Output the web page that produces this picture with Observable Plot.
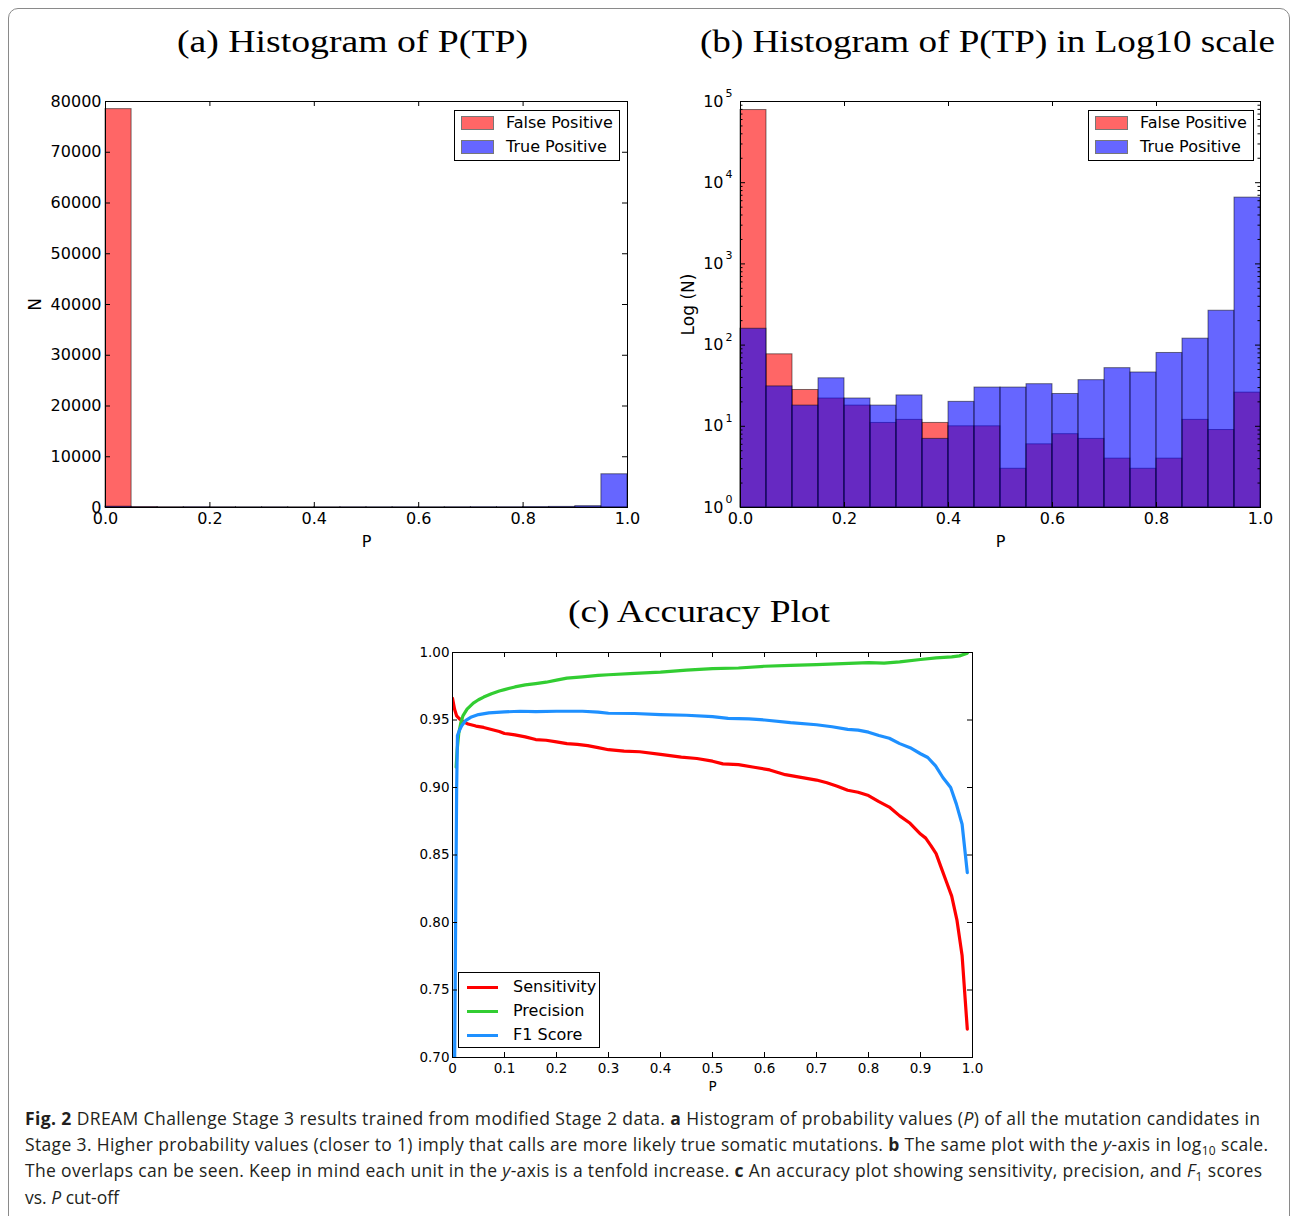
<!DOCTYPE html>
<html><head><meta charset="utf-8">
<script src="https://cdn.jsdelivr.net/npm/d3@7"></script>
<script src="https://cdn.jsdelivr.net/npm/@observablehq/plot@0.6"></script>
<style>
html,body{margin:0;padding:0;background:#fff;}
body{width:1292px;height:1216px;position:relative;overflow:hidden;}
.box{position:absolute;left:8px;top:8px;width:1282px;height:1300px;border:1px solid #8a8a8a;border-radius:10px;box-sizing:border-box;}
.panel{position:absolute;}
.panel svg{overflow:visible;}
.legend{position:absolute;border:1px solid #000;background:#fff;box-sizing:border-box;font-family:"DejaVu Sans",sans-serif;color:#000;}
.legend .row{position:absolute;white-space:nowrap;}
.patch{position:absolute;box-sizing:border-box;border:1px solid #777;}
.lsample{position:absolute;height:3px;}
#overlay{position:absolute;left:0;top:0;}
</style></head><body>
<div class="box"></div>
<svg id="overlay" width="1292" height="1216"></svg>
<div id="pa" class="panel" style="left:20px;top:90px"></div>
<div id="pb" class="panel" style="left:655px;top:90px"></div>
<div id="pc" class="panel" style="left:380px;top:640px"></div>
<div id="legends"></div>
<script>
// ---------------- data ----------------
const binEdges = [0.00,0.05,0.10,0.15,0.20,0.25,0.30,0.35,0.40,0.45,0.50,0.55,0.60,0.65,0.70,0.75,0.80,0.85,0.90,0.95,1.00];
const fpCounts = [78500,77,28,22,18,11,12,11,10,10,3,6,8,7,4,3,4,12,9,26];
const tpCounts = [159,31,18,39,22,18,24,7,20,30,30,33,25,37,52,46,80,120,265,6550];
const histSeries = ["False Positive","True Positive"];
const histColors = ["red","blue"];

const xTicksHist = [0,0.2,0.4,0.6,0.8,1.0];
const yTicksLinear = [0,10000,20000,30000,40000,50000,60000,70000,80000];
const yTicksLog = [1,10,100,1000,10000,100000];
const yTickLogExponents = ["0","1","2","3","4","5"];

const accSeries = ["Sensitivity","Precision","F1 Score"];
const accColors = ["#ff0000","#32cd32","#1e90ff"];
const sensitivity = [[0,0.966],[0.004,0.958],[0.008,0.953],[0.013,0.951],[0.02,0.949],[0.03,0.947],[0.045,0.9455],[0.06,0.9445],[0.075,0.943],[0.09,0.9415],[0.1,0.940],[0.12,0.939],[0.14,0.9375],[0.16,0.9355],[0.18,0.935],[0.2,0.9338],[0.22,0.9325],[0.24,0.932],[0.26,0.931],[0.28,0.9295],[0.3,0.928],[0.33,0.927],[0.36,0.9265],[0.4,0.9245],[0.44,0.9225],[0.47,0.9215],[0.5,0.9195],[0.52,0.9175],[0.55,0.917],[0.58,0.915],[0.61,0.913],[0.64,0.9095],[0.67,0.9075],[0.7,0.9055],[0.72,0.9035],[0.74,0.901],[0.76,0.898],[0.78,0.8965],[0.8,0.894],[0.82,0.8895],[0.84,0.8855],[0.86,0.879],[0.88,0.8735],[0.9,0.8655],[0.91,0.8625],[0.92,0.857],[0.93,0.851],[0.94,0.8405],[0.95,0.83],[0.96,0.8195],[0.97,0.802],[0.98,0.7755],[0.99,0.721]];
const precision = [[0.007,0.915],[0.009,0.928],[0.012,0.940],[0.016,0.948],[0.02,0.953],[0.028,0.958],[0.04,0.9625],[0.05,0.965],[0.06,0.967],[0.075,0.9695],[0.09,0.9715],[0.1,0.9725],[0.12,0.9745],[0.14,0.976],[0.16,0.977],[0.18,0.978],[0.2,0.9795],[0.22,0.981],[0.25,0.982],[0.28,0.983],[0.3,0.9835],[0.35,0.9845],[0.4,0.9855],[0.45,0.987],[0.5,0.988],[0.55,0.9885],[0.6,0.9898],[0.65,0.9905],[0.7,0.991],[0.75,0.9918],[0.8,0.9925],[0.83,0.9922],[0.86,0.993],[0.9,0.9948],[0.93,0.996],[0.96,0.9968],[0.975,0.9975],[0.99,0.9995]];
const f1Score = [[0.004,0.69],[0.006,0.80],[0.008,0.90],[0.0095,0.9385],[0.013,0.942],[0.018,0.946],[0.025,0.9495],[0.035,0.952],[0.05,0.954],[0.07,0.9553],[0.1,0.956],[0.13,0.9565],[0.16,0.9562],[0.2,0.9565],[0.25,0.9565],[0.28,0.9558],[0.3,0.955],[0.35,0.9548],[0.4,0.954],[0.45,0.9535],[0.5,0.9525],[0.53,0.9512],[0.57,0.9508],[0.6,0.95],[0.65,0.948],[0.7,0.9465],[0.73,0.945],[0.76,0.943],[0.78,0.9425],[0.8,0.941],[0.82,0.9385],[0.84,0.9365],[0.86,0.9325],[0.88,0.9295],[0.9,0.925],[0.914,0.9222],[0.929,0.916],[0.943,0.9074],[0.958,0.900],[0.969,0.8877],[0.98,0.8728],[0.99,0.837]];
const xTicksAcc = [0,0.1,0.2,0.3,0.4,0.5,0.6,0.7,0.8,0.9,1.0];
const yTicksAcc = [0.70,0.75,0.80,0.85,0.90,0.95,1.00];

const titles = ["(a) Histogram of P(TP)","(b) Histogram of P(TP) in Log10 scale","(c) Accuracy Plot"];

// ---------------- helpers ----------------
const bins = fpCounts.map((v,i)=>({x1:binEdges[i],x2:binEdges[i+1],fp:v,tp:tpCounts[i]}));

function inwardTicks(xt, yt, fw, fh, len){
  return [
    Plot.tickX(xt,{x:d=>d,insetTop:fh-len,stroke:"#000"}),
    Plot.tickX(xt,{x:d=>d,insetBottom:fh-len,stroke:"#000"}),
    Plot.tickY(yt,{y:d=>d,insetRight:fw-len,stroke:"#000"}),
    Plot.tickY(yt,{y:d=>d,insetLeft:fw-len,stroke:"#000"})
  ];
}

function histogram(log, width, marginRight){
  const ml=85, mt=11, mb=45, height=462;
  const fw = width-ml-marginRight, fh = height-mt-mb;
  const base = log ? 1 : 0;
  const yt = log ? yTicksLog : yTicksLinear;
  const minor = [];
  if (log) for (let k=0;k<5;k++) for (let m=2;m<10;m++) minor.push(m*yTicksLog[k]);
  return Plot.plot({
    width, height, marginLeft:ml, marginRight, marginTop:mt, marginBottom:mb,
    style:{fontFamily:"DejaVu Sans, sans-serif",fontSize:"16px",color:"#000",background:"transparent"},
    x:{domain:[0,1],axis:null},
    y: log ? {type:"log",domain:[1,100000],axis:null} : {domain:[0,80000],axis:null},
    marks:[
      Plot.rect(bins,{x1:"x1",x2:"x2",y1:()=>base,y2:"fp",fill:histColors[0],fillOpacity:0.6,stroke:"#000",strokeOpacity:0.5}),
      Plot.rect(bins,{x1:"x1",x2:"x2",y1:()=>base,y2:"tp",fill:histColors[1],fillOpacity:0.6,stroke:"#000",strokeOpacity:0.5}),
      Plot.frame({stroke:"#000"}),
      ...inwardTicks(xTicksHist, yt, fw, fh, 5),
      ...(log ? [
        Plot.tickY(minor,{y:d=>d,insetRight:fw-2.5,stroke:"#000"}),
        Plot.tickY(minor,{y:d=>d,insetLeft:fw-2.5,stroke:"#000"})
      ] : []),
      Plot.axisX(xTicksHist,{tickSize:0,tickPadding:5,tickFormat:d=>d.toFixed(1),label:null}),
      ...(log ? [
        Plot.text(yTicksLog,{y:d=>d,frameAnchor:"left",text:()=> "10",textAnchor:"end",lineAnchor:"middle",dx:-17,fontSize:16}),
        Plot.text(yTicksLog,{y:d=>d,frameAnchor:"left",text:(d,i)=>yTickLogExponents[i],textAnchor:"start",lineAnchor:"middle",dx:-15,dy:-8,fontSize:11})
      ] : [
        Plot.axisY(yt,{tickSize:0,tickPadding:4,tickFormat:d=>String(d),label:null})
      ]),
      Plot.text(["P"],{frameAnchor:"bottom",dy:34,text:d=>d,fontSize:16,textAnchor:"middle",lineAnchor:"middle"}),
      Plot.text([log?"Log (N)":"N"],{frameAnchor:"left",dx:log?-52:-70,rotate:-90,text:d=>d,fontSize:17,textAnchor:"middle",lineAnchor:"middle"})
    ]
  });
}

function accuracy(){
  const width=612, height=457, ml=72, mr=20, mt=12, mb=40;
  const fw=width-ml-mr, fh=height-mt-mb;
  const rows = [sensitivity,precision,f1Score].flatMap((arr,i)=>arr.map(([p,v])=>({p,v,s:accSeries[i]})));
  return Plot.plot({
    width, height, marginLeft:ml, marginRight:mr, marginTop:mt, marginBottom:mb,
    style:{fontFamily:"DejaVu Sans, sans-serif",fontSize:"13.5px",color:"#000",background:"transparent"},
    x:{domain:[0,1],axis:null},
    y:{domain:[0.70,1.00],axis:null},
    color:{domain:accSeries,range:accColors},
    marks:[
      ...accSeries.map(s=>Plot.line(rows.filter(r=>r.s===s),{x:"p",y:"v",stroke:"s",strokeWidth:3.2,clip:true,strokeLinejoin:"round"})),
      Plot.frame({stroke:"#000"}),
      ...inwardTicks(xTicksAcc, yTicksAcc, fw, fh, 5),
      Plot.axisX(xTicksAcc,{tickSize:0,tickPadding:6,tickFormat:d=>d===0?"0":d.toFixed(1),label:null}),
      Plot.axisY(yTicksAcc,{tickSize:0,tickPadding:3,tickFormat:d=>d.toFixed(2),label:null}),
      Plot.text(["P"],{frameAnchor:"bottom",dy:29,text:d=>d,fontSize:13.5,textAnchor:"middle",lineAnchor:"middle"})
    ]
  });
}

document.getElementById("pa").append(histogram(false,617,10));
document.getElementById("pb").append(histogram(true,625,20));
document.getElementById("pc").append(accuracy());

// ---------------- legends ----------------
const L = document.getElementById("legends");
function histLegend(left){
  const d = document.createElement("div");
  d.className="legend";
  d.style.cssText=`left:${left}px;top:110px;width:166px;height:51px;font-size:16px;`;
  histSeries.forEach((name,i)=>{
    const p=document.createElement("div");
    p.className="patch";
    p.style.cssText=`left:6px;top:${5+i*24}px;width:33px;height:14px;background:${i?"#6666ff":"#ff6666"};`;
    d.append(p);
    const t=document.createElement("div");
    t.className="row";
    t.style.cssText=`left:51px;top:${2+i*24}px;`;
    t.textContent=name;
    d.append(t);
  });
  L.append(d);
}
histLegend(454);
histLegend(1088);
(function(){
  const d=document.createElement("div");
  d.className="legend";
  d.style.cssText="left:458px;top:972px;width:142px;height:76px;font-size:16px;";
  accSeries.forEach((name,i)=>{
    const s=document.createElement("div");
    s.className="lsample";
    s.style.cssText=`left:8px;top:${13+i*24}px;width:31px;background:${accColors[i]};`;
    d.append(s);
    const t=document.createElement("div");
    t.className="row";
    t.style.cssText=`left:54px;top:${4+i*24}px;`;
    t.textContent=name;
    d.append(t);
  });
  L.append(d);
})();

// ---------------- titles & caption (svg text) ----------------
const ov = d3.select("#overlay");
const titleSpecs = [[177,52,351],[700,52,575],[568,622,262]];
titles.forEach((t,i)=>{
  const [x,y,w]=titleSpecs[i];
  ov.append("text").attr("x",x).attr("y",y).attr("textLength",w).attr("lengthAdjust","spacingAndGlyphs")
    .attr("font-family","Liberation Serif, serif").attr("font-size",31).attr("fill","#000").text(t);
});
const capLines = [
  [["b","Fig. 2"],["n"," DREAM Challenge Stage 3 results trained from modified Stage 2 data. "],["b","a"],["n"," Histogram of probability values ("],["i","P"],["n",") of all the mutation candidates in"]],
  [["n","Stage 3. Higher probability values (closer to 1) imply that calls are more likely true somatic mutations. "],["b","b"],["n"," The same plot with the "],["i","y"],["n","-axis in log"],["sub","10"],["n"," scale."]],
  [["n","The overlaps can be seen. Keep in mind each unit in the "],["i","y"],["n","-axis is a tenfold increase. "],["b","c"],["n"," An accuracy plot showing sensitivity, precision, and "],["i","F"],["sub","1"],["n"," scores"]],
  [["n","vs. "],["i","P"],["n"," cut-off"]]
];
const capWidths = [1235,1243,1237,null];
capLines.forEach((parts,i)=>{
  const t = ov.append("text").attr("x",25).attr("y",1125+i*26.2)
    .attr("font-family","Open Sans, sans-serif").attr("font-size",17.5).attr("fill","#231f20")
    .attr("xml:space","preserve");
  if (capWidths[i]) t.attr("textLength",capWidths[i]).attr("lengthAdjust","spacing");
  let shifted=false;
  parts.forEach(([k,s])=>{
    const sp=t.append("tspan").text(s);
    if(k==="b") sp.attr("font-weight","bold");
    if(k==="i") sp.attr("font-style","italic");
    if(k==="sub"){ sp.attr("font-size",12).attr("dy",4); shifted=true; }
    else if(shifted){ sp.attr("dy",-4); shifted=false; }
  });
});
</script>
</body></html>
